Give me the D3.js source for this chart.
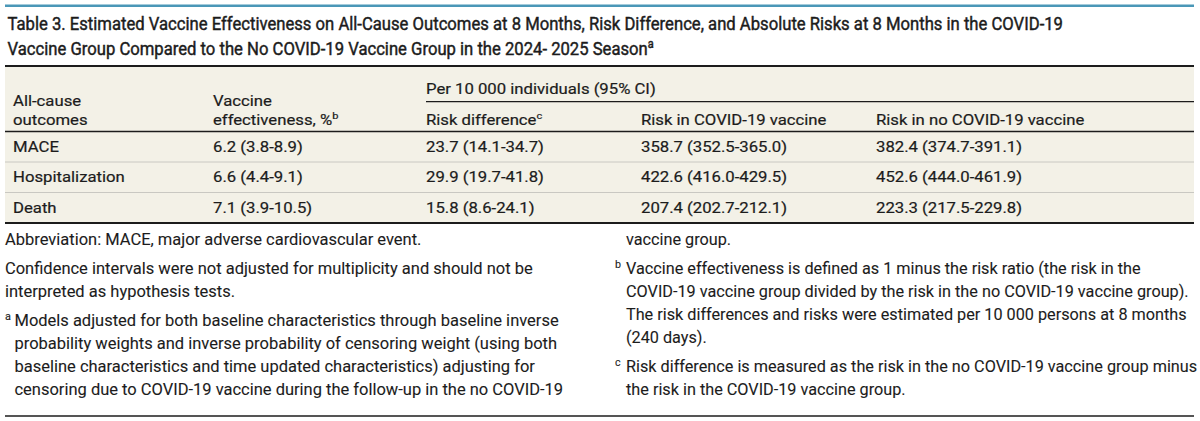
<!DOCTYPE html>
<html>
<head>
<meta charset="utf-8">
<script src="https://cdn.jsdelivr.net/npm/d3@7"></script>
<style>
  html, body { margin: 0; padding: 0; background: #fff; }
  svg { display: block; }
</style>
</head>
<body>
<svg id="chart" width="1200" height="421"></svg>
<script>
// Table data
const outcomes = ["MACE", "Hospitalization", "Death"];
const vaccineEffectiveness = [6.2, 6.6, 7.1];
const veLower = [3.8, 4.4, 3.9];
const veUpper = [8.9, 9.1, 10.5];
const riskDifference = [23.7, 29.9, 15.8];
const rdLower = [14.1, 19.7, 8.6];
const rdUpper = [34.7, 41.8, 24.1];
const riskVaccine = [358.7, 422.6, 207.4];
const rvLower = [352.5, 416.0, 202.7];
const rvUpper = [365.0, 429.5, 212.1];
const riskNoVaccine = [382.4, 452.6, 223.3];
const rnLower = [374.7, 444.0, 217.5];
const rnUpper = [391.1, 461.9, 229.8];

const titleLines = [
    [{ t: "Table 3. Estimated Vaccine Effectiveness on All-Cause Outcomes at 8 Months, Risk Difference, and Absolute Risks at 8 Months in the COVID-19" }],
    [{ t: "Vaccine Group Compared to the No COVID-19 Vaccine Group in the 2024- 2025 Season" }, { t: "a", sup: true }]
];
const spanHeader = "Per 10 000 individuals (95% CI)";
const columnHeaders = [
    [[{ t: "All-cause" }], [{ t: "outcomes" }]],
    [[{ t: "Vaccine" }], [{ t: "effectiveness, %" }, { t: "b", sup: true }]],
    [[], [{ t: "Risk difference" }, { t: "c", sup: true }]],
    [[], [{ t: "Risk in COVID-19 vaccine" }]],
    [[], [{ t: "Risk in no COVID-19 vaccine" }]]
];

// footnotes, as laid out in two columns
const footLeft = [
    { mark: null, lines: ["Abbreviation: MACE, major adverse cardiovascular event."] },
    { mark: null, lines: [
        "Confidence intervals were not adjusted for multiplicity and should not be",
        "interpreted as hypothesis tests."] },
    { mark: "a", lines: [
        "Models adjusted for both baseline characteristics through baseline inverse",
        "probability weights and inverse probability of censoring weight (using both",
        "baseline characteristics and time updated characteristics) adjusting for",
        "censoring due to COVID-19 vaccine during the follow-up in the no COVID-19"] }
];
const footRight = [
    { mark: null, lines: ["vaccine group."] },
    { mark: "b", lines: [
        "Vaccine effectiveness is defined as 1 minus the risk ratio (the risk in the",
        "COVID-19 vaccine group divided by the risk in the no COVID-19 vaccine group).",
        "The risk differences and risks were estimated per 10 000 persons at 8 months",
        "(240 days)."] },
    { mark: "c", lines: [
        "Risk difference is measured as the risk in the no COVID-19 vaccine group minus",
        "the risk in the COVID-19 vaccine group."] }
];

// ---- layout ----
const left = 5, right = 1194;
const ink = "#1c1c1c";
const font = "Roboto, 'Noto Sans', sans-serif";
const tableTop = 66, headBottom = 131.5, tableBottom = 223;

const svg = d3.select("#chart")
    .attr("font-family", font)
    .attr("fill", ink);

const f1 = d3.format(".1f");
const cell = (v, lo, hi) => `${f1(v)} (${f1(lo)}-${f1(hi)})`;

// horizontal squeeze so the wide font matches the narrow original face
function squeeze(str, size, target) {
    const t = svg.append("text").attr("font-size", size).text(str);
    const w = t.node().getComputedTextLength();
    t.remove();
    return target / w;
}

const styles = {
    title: { size: 18.5, sx: squeeze(titleLines[0][0].t, 18.5, 1056), stroke: 0.45 },
    cell: { size: 15, sx: squeeze(spanHeader, 15, 230), stroke: 0.2 },
    footL: { size: 16.5, sx: squeeze(footLeft[1].lines[0], 16.5, 528), stroke: 0.1 },
    footR: { size: 16.5, sx: squeeze(footRight[1].lines[1], 16.5, 563), stroke: 0.1 }
};

function drawText(parent, x, y, segments, style) {
    const t = parent.append("text")
        .attr("transform", `translate(${x},${y}) scale(${style.sx},1)`)
        .attr("font-size", style.size)
        .attr("stroke", ink)
        .attr("stroke-width", style.stroke);
    segments.forEach(s => {
        const ts = t.append("tspan").text(s.t);
        if (s.sup) ts.attr("font-size", style.size * 0.66).attr("dy", -style.size * 0.38);
    });
    return t;
}

// top blue rule
svg.append("rect")
    .attr("x", left).attr("y", 4.5).attr("width", right - left).attr("height", 2.5)
    .attr("fill", "#4a97b7");

// title
const titleBase = [29.5, 55];
titleLines.forEach((line, i) => drawText(svg, 7.5, titleBase[i], line, styles.title));

// table background
svg.append("rect")
    .attr("x", left).attr("y", tableTop).attr("width", right - left).attr("height", tableBottom - tableTop)
    .attr("fill", "#f3f1e7");

// columns and rows
const colX = [13, 213, 426, 641, 876];
const x = d3.scaleOrdinal().domain(d3.range(5)).range(colX);
const y = d3.scaleBand().domain(outcomes).range([headBottom, tableBottom]);

// header
drawText(svg, x(2), 94.3, [{ t: spanHeader }], styles.cell);
svg.append("line")
    .attr("x1", x(2)).attr("x2", right).attr("y1", 101.7).attr("y2", 101.7)
    .attr("stroke", ink).attr("stroke-width", 1.2);
columnHeaders.forEach((lines, c) => {
    if (lines[0].length) drawText(svg, x(c), 105.5, lines[0], styles.cell);
    drawText(svg, x(c), 125, lines[1], styles.cell);
});

// body rows
const rows = outcomes.map((o, i) => [
    o,
    cell(vaccineEffectiveness[i], veLower[i], veUpper[i]),
    cell(riskDifference[i], rdLower[i], rdUpper[i]),
    cell(riskVaccine[i], rvLower[i], rvUpper[i]),
    cell(riskNoVaccine[i], rnLower[i], rnUpper[i])
]);

const body = svg.append("g");
rows.forEach(r => {
    const cy = y(r[0]) + y.bandwidth() / 2;
    r.forEach((v, c) => drawText(body, x(c), cy + 5.2, [{ t: v }], styles.cell));
});

// row separators
body.selectAll("line.sep")
    .data(outcomes.slice(1))
    .enter().append("line")
    .attr("class", "sep")
    .attr("x1", left).attr("x2", right)
    .attr("y1", d => y(d)).attr("y2", d => y(d))
    .attr("stroke", "#c9c8c2").attr("stroke-width", 1);

// table rules
[[tableTop, 2], [headBottom, 1.6], [tableBottom, 2]].forEach(([yy, w]) => {
    svg.append("line")
        .attr("x1", left).attr("x2", right).attr("y1", yy).attr("y2", yy)
        .attr("stroke", ink).attr("stroke-width", w);
});

// footnotes: plain notes sit at the column edge, lettered notes hang after the mark
const lineH = 23, paraGap = 6, footTop = 245;
function drawFootColumn(paras, edgeX, hangX, markX, style) {
    let yy = footTop;
    paras.forEach((p, pi) => {
        if (pi > 0) yy += paraGap;
        const tx = p.mark ? hangX : edgeX;
        if (p.mark) drawText(svg, markX, yy, [{ t: p.mark, sup: true }], style);
        p.lines.forEach(l => {
            drawText(svg, tx, yy, [{ t: l }], style);
            yy += lineH;
        });
    });
}
drawFootColumn(footLeft, left, 14.5, left, styles.footL);
drawFootColumn(footRight, 626, 626, 615, styles.footR);

// bottom rule
svg.append("line")
    .attr("x1", left).attr("x2", right).attr("y1", 416).attr("y2", 416)
    .attr("stroke", ink).attr("stroke-width", 1.6);
</script>
</body>
</html>
